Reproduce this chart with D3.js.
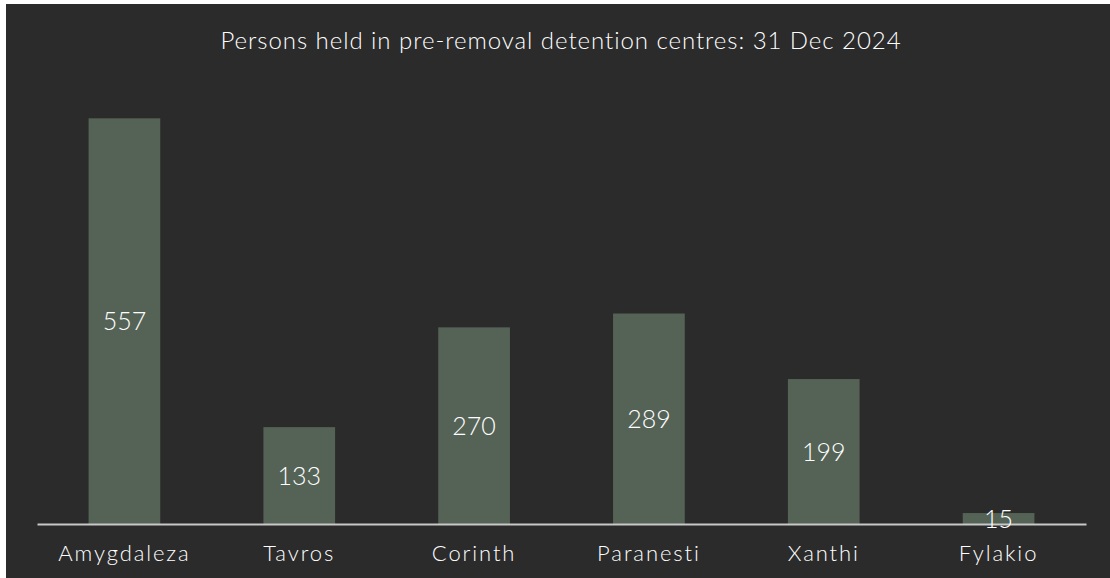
<!DOCTYPE html>
<html><head><meta charset="utf-8">
<script src="https://cdn.jsdelivr.net/npm/d3@7"></script>
<style>
html,body{margin:0;padding:0;background:#ffffff;}
svg{display:block;}
text{font-family:Lato,"Open Sans",sans-serif;font-weight:300;}
</style></head>
<body><svg id="c" width="1110" height="578"></svg>
<script>
const categories = ["Amygdaleza","Tavros","Corinth","Paranesti","Xanthi","Fylakio"];
const values = [557,133,270,289,199,15];
const titleText = "Persons held in pre-removal detention centres: 31 Dec 2024";

const svg = d3.select("#c");
svg.append("rect").attr("x",6).attr("y",4).attr("width",1104).attr("height",574).attr("fill","#2b2b2b");

const x = d3.scaleBand().domain(categories).range([37,1086]).paddingInner(0.59).paddingOuter(0.295);
const y = d3.scaleLinear().domain([0,600]).range([524,87]);

svg.append("text").attr("x",561).attr("y",49).attr("text-anchor","middle")
  .attr("fill","#ffffff").attr("font-size",24).attr("letter-spacing",0.95).text(titleText);

svg.selectAll("rect.bar").data(values).join("rect").attr("class","bar")
  .attr("x",(d,i)=>x(categories[i])).attr("y",d=>y(d))
  .attr("width",x.bandwidth()).attr("height",d=>y(0)-y(d)).attr("fill","#556357");

const axis = d3.axisBottom(x).tickSize(0).tickPadding(0);
const g = svg.append("g").attr("transform",`translate(0,${y(0)})`).call(axis);
g.select(".domain").attr("stroke","#c8c8c8").attr("stroke-width",2);
g.selectAll(".tick text").attr("fill","#ffffff").attr("font-size",22).attr("dy",0).attr("y",37)
  .attr("letter-spacing",1.9).style("font-family","Lato").style("font-weight",300);

svg.selectAll("text.val").data(values).join("text").attr("class","val")
  .attr("x",(d,i)=>x(categories[i])+x.bandwidth()/2)
  .attr("y",d=>(y(d)+y(0))/2).attr("dy","0.36em").attr("text-anchor","middle")
  .attr("fill","#ffffff").attr("font-size",25).text(d=>d);
</script></body></html>
